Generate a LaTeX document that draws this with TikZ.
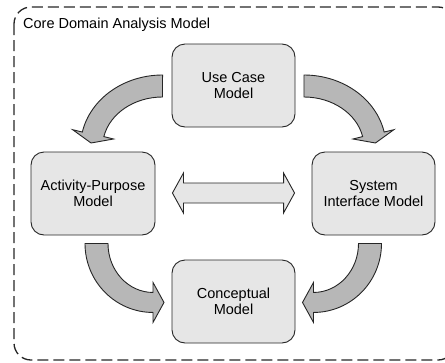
\documentclass[tikz,border=0pt]{standalone}
\usepackage{fontspec}
\setmainfont{Liberation Sans}
\usetikzlibrary{calc}
\definecolor{boxfill}{HTML}{E6E6E6}
\definecolor{arrowfill}{HTML}{B7B7B7}
\definecolor{edge}{HTML}{262626}
\tikzset{
  model/.style={draw=edge, fill=boxfill, line width=0.9pt, rounded corners=13pt,
    minimum width=123pt, minimum height=83pt, inner sep=0pt, align=center,
    text=black, font=\fontsize{14.5}{16.3}\selectfont},
  bendarrow/.style={draw=edge, fill=arrowfill, line width=0.9pt, line join=miter},
  flatarrow/.style={draw=edge, fill=boxfill, line width=0.9pt, line join=miter},
  frame/.style={draw=edge, line width=1.3pt, dash pattern=on 11pt off 5pt, rounded corners=17pt},
  % curved block arrow leaving a box sideways and turning down
  toparrow/.pic={
    \draw[bendarrow] (0,0) arc[start angle=-90, end angle=-168, x radius=82, y radius=72]
      -- (-89.9,54.7) -- (-71.5,68) -- (-49,64) -- (-58.7,61.6)
      arc[start angle=-168, end angle=-90, x radius=60, y radius=50] -- cycle;
  },
  % curved block arrow leaving a box downwards and turning sideways
  bottomarrow/.pic={
    \draw[bendarrow] (0,0) arc[start angle=180, end angle=90, x radius=68, y radius=69]
      -- (68,79) -- (79,59) -- (68,39) -- (68,49)
      arc[start angle=90, end angle=180, x radius=45, y radius=49] -- cycle;
  }
}
\begin{document}
\begin{tikzpicture}[x=1pt, y=-1pt]
\useasboundingbox (0,0) rectangle (445,362);

% enclosing package
\draw[frame] (14,7) rectangle (455,360);
\node[anchor=base west, inner sep=0pt, text=black, font=\fontsize{14.5}{16.3}\selectfont]
  (title) at (23,28) {Core Domain Analysis Model};

% models
\node[model] (uc) at (233.5,85.5)  {Use Case\\Model};
\node[model, minimum width=124pt] (ap) at (93,193.5) {Activity-Purpose\\Model};
\node[model] (si) at (373.5,193.5) {System\\Interface Model};
\node[model] (cm) at (233.5,301.5) {Conceptual\\Model};

% flows from the use case model
\pic at ($(uc.west)+(-9,-10.5)$) {toparrow};
\pic[xscale=-1] at ($(uc.east)+(8.5,-10.5)$) {toparrow};

% flows into the conceptual model
\pic at ($(ap.south)+(-8,8)$) {bottomarrow};
\pic[xscale=-1] at ($(si.south)+(8,8)$) {bottomarrow};

% two-way link between activity-purpose and system interface models
\coordinate (dl) at ($(ap.east)+(17,-0.5)$);
\coordinate (dr) at ($(si.west)+(-17,-0.5)$);
\draw[flatarrow] (dl) -- ++(11,-20) -- ++(0,10) -- ($(dr)+(-11,-10)$) -- ++(0,-10)
  -- (dr) -- ++(-11,20) -- ++(0,-10) -- ($(dl)+(11,10)$) -- ++(0,10) -- cycle;
\end{tikzpicture}
\end{document}
